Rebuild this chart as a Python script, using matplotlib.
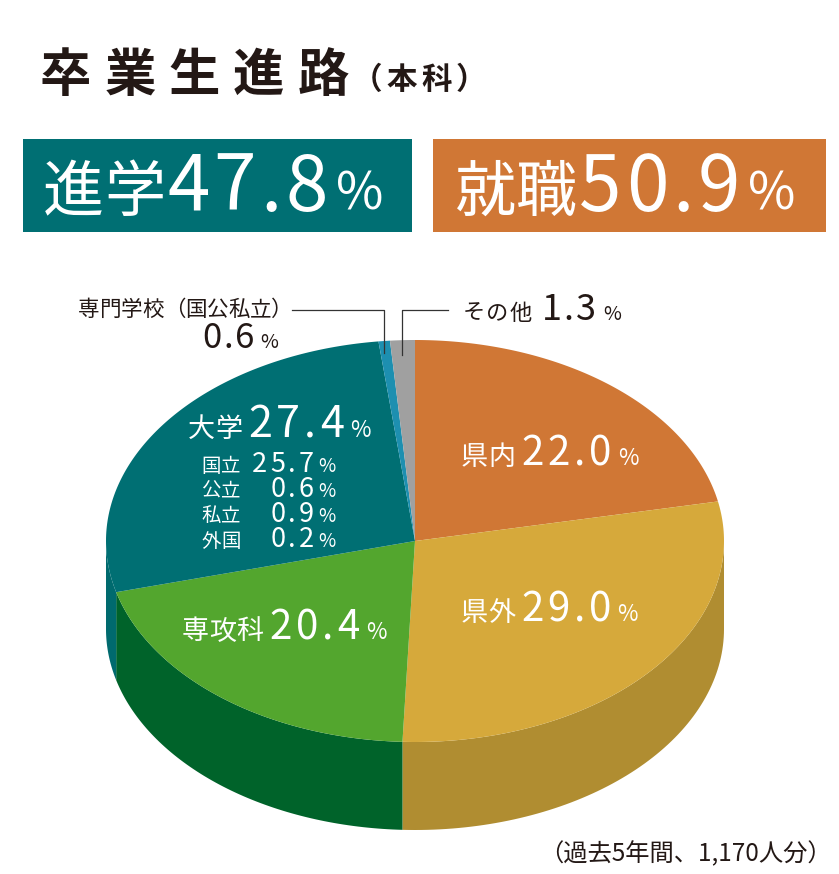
import numpy as np
import matplotlib.pyplot as plt
from matplotlib.patches import Polygon, Rectangle

plt.rcParams['font.family'] = ['Noto Sans CJK JP', 'DejaVu Sans']

# データ（本科卒業生の進路, %）
labels = ['県内', '県外', '専攻科', '大学', '専門学校（国公私立）', 'その他']
values = [22.0, 29.0, 20.4, 27.4, 0.6, 1.3]
top_colors = ['#d07735', '#d6a93b', '#53a62e', '#006f73', '#1d8fb0', '#a0a0a0']
side_colors = ['#a85f28', '#b08d31', '#00632a', '#006a6e', '#17789a', '#888888']

univ_labels = ['国立', '公立', '私立', '外国']
univ_values = [25.7, 0.6, 0.9, 0.2]

shingaku = 47.8
shushoku = 50.9

W, H = 839, 874
fig = plt.figure(figsize=(W / 100, H / 100), dpi=100)
ax = fig.add_axes([0, 0, 1, 1])
ax.set_xlim(0, W)
ax.set_ylim(H, 0)
ax.axis('off')
renderer = fig.canvas.get_renderer()

DARK = '#231815'


def spaced(x, y, s, size, track=0, ha='left', **kw):
    # 文字を一つずつ並べて字間をあける
    def width(ch):
        t = ax.text(0, 0, ch, fontsize=size, **kw)
        w = t.get_window_extent(renderer).width
        t.remove()
        return w
    widths = [width(ch) for ch in s]
    total = sum(widths) + track * (len(s) - 1)
    if ha == 'right':
        x -= total
    elif ha == 'center':
        x -= total / 2
    for ch, w in zip(s, widths):
        ax.text(x, y, ch, fontsize=size, va='baseline', ha='left', **kw)
        x += w + track
    return x - track


# タイトル
spaced(40, 91, '卒業生進路', 37, track=13, color=DARK, fontweight='bold')
spaced(352, 89, '（本科）', 22, track=4, color=DARK, fontweight='bold')

# 上の2つのボックス
ax.add_patch(Rectangle((23, 139), 389, 93, color='#006f73', lw=0))
ax.add_patch(Rectangle((433, 139), 393, 93, color='#d07735', lw=0))
x = spaced(43, 211, '進学', 44, color='white')
x = spaced(x + 2, 211, f'{shingaku:.1f}', 55, track=4, color='white')
spaced(x + 8, 210, '%', 37, color='white')
x = spaced(455, 211, '就職', 44, color='white')
x = spaced(x + 2, 211, f'{shushoku:.1f}', 55, track=4, color='white')
spaced(x + 8, 210, '%', 37, color='white')

# 立体円グラフ
cx, cy, rx, ry, depth = 415, 541, 309, 201, 88
total = sum(values)
angles = 90 - np.cumsum([0] + values) / total * 360
starts, ends = angles[:-1], angles[1:]


def pt(t, dz=0):
    t = np.radians(t)
    return cx + rx * np.cos(t), cy - ry * np.sin(t) + dz


# 側面（手前半分だけ）
for a0, a1, c in zip(starts, ends, side_colors):
    lo, hi = max(a1, -180), min(a0, 0)
    if lo >= hi:
        continue
    ts = np.linspace(hi, lo, 80)
    top = [pt(t) for t in ts]
    bot = [pt(t, depth) for t in ts[::-1]]
    ax.add_patch(Polygon(top + bot, closed=True, color=c, lw=0))

# 上面
for a0, a1, c in zip(starts, ends, top_colors):
    ts = np.linspace(a0, a1, 120)
    verts = [(cx, cy)] + [pt(t) for t in ts]
    ax.add_patch(Polygon(verts, closed=True, color=c, lw=0))


# ラベル
def big_label(x, y, name, val, s1=19.5, s2=29, s3=16):
    x = spaced(x, y, name, s1, color='white')
    x = spaced(x + 6, y, f'{val:.1f}', s2, track=4, color='white')
    spaced(x + 6, y, '%', s3, color='white')


big_label(461, 465, labels[0], values[0])
big_label(461, 621, labels[1], values[1])
big_label(182, 639, labels[2], values[2])
big_label(188, 437, labels[3], values[3], s2=31)

for i, (n, v) in enumerate(zip(univ_labels, univ_values)):
    yy = 472 + i * 25
    spaced(201, yy, n, 14, track=1, color='white')
    spaced(314, yy, f'{v:.1f}', 19.5, track=3, ha='right', color='white')
    spaced(318, yy, '%', 13.5, color='white')

# 小さいスライスの引き出し線とラベル
spaced(78, 316, labels[4], 15.5, color=DARK)
x = spaced(202, 348, f'{values[4]:.1f}', 25, track=2, color=DARK)
spaced(x + 6, 348, '%', 14, color=DARK)
x = spaced(463, 320, labels[5], 16, track=1, color=DARK)
x = spaced(x + 10, 320, f'{values[5]:.1f}', 26, track=2, color=DARK)
spaced(x + 8, 320, '%', 14, color=DARK)

mid_blue = (starts[4] + ends[4]) / 2
mid_gray = (starts[5] + ends[5]) / 2
bx, by = pt(mid_blue)
gx, gy = pt(mid_gray)
ax.plot([292, bx, bx], [310, 310, by + 12], color='#333333', lw=0.9)
ax.plot([448, gx, gx], [310, 310, gy + 15], color='#333333', lw=0.9)

# 注記
ax.text(832, 861, '（過去5年間、1,170人分）', fontsize=17.5, color=DARK,
        ha='right', va='baseline')

fig.savefig('out.png', dpi=100)
